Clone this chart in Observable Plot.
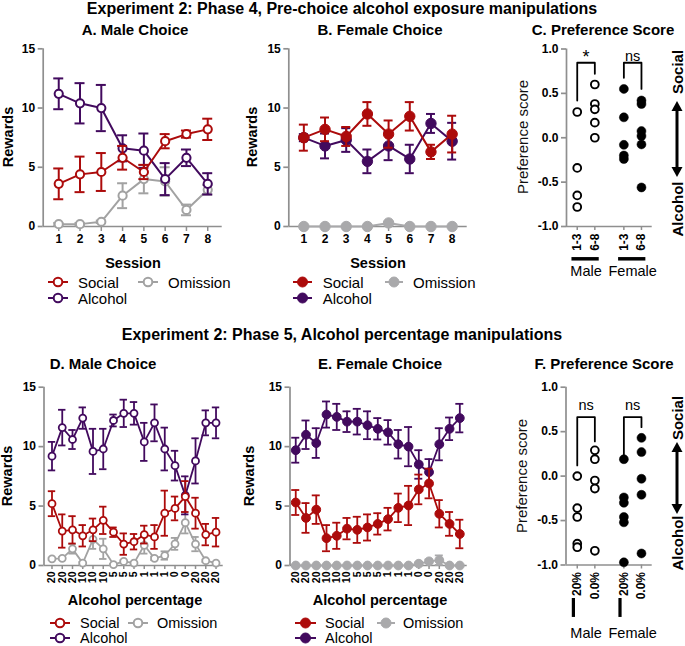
<!DOCTYPE html>
<html><head><meta charset="utf-8">
<script src="https://cdn.jsdelivr.net/npm/d3@7"></script>
<script src="https://cdn.jsdelivr.net/npm/@observablehq/plot@0.6"></script>
<style>
body{margin:0;background:#fff;}
#root{position:relative;width:685px;height:646px;overflow:hidden;font-family:"Liberation Sans",Arial,sans-serif;color:#000;background:#fff;}
.t{position:absolute;white-space:nowrap;line-height:1;transform:translate(-50%,-50%);}
.l{position:absolute;white-space:nowrap;line-height:1;transform:translate(0,-50%);font-size:15px;}
.panel{position:absolute;}
</style></head><body><div id="root"></div>
<script>
// ---------------- DATA ----------------
const seriesNames = ["Social", "Alcohol", "Omission"];
const sessionLabels = ["1","2","3","4","5","6","7","8"];

// Phase 4 – Male (A)
const maleP4Social       = [3.6, 4.4, 4.6, 5.8, 4.6, 7.2, 7.8, 8.2];
const maleP4SocialSem    = [1.3, 1.5, 1.6, 1.0, 0.6, 0.6, 0.3, 0.9];
const maleP4Alcohol      = [11.2, 10.4, 10.0, 6.6, 6.4, 4.0, 5.8, 3.6];
const maleP4AlcoholSem   = [1.3, 1.7, 1.95, 1.1, 1.45, 1.35, 0.7, 0.9];
const maleP4Omission     = [0.2, 0.2, 0.4, 2.6, 4.0, 3.8, 1.4, 3.1];
const maleP4OmissionSem  = [0.1, 0.1, 0.1, 1.05, 1.2, 1.2, 0.45, 0.4];
// Phase 4 – Female (B)
const femaleP4Social      = [7.5, 8.2, 7.6, 9.5, 7.8, 9.3, 6.3, 7.8];
const femaleP4SocialSem   = [1.1, 1.0, 0.8, 1.0, 1.15, 1.2, 0.6, 1.55];
const femaleP4Alcohol     = [7.5, 6.8, 7.3, 5.5, 6.8, 5.7, 8.7, 7.2];
const femaleP4AlcoholSem  = [0.3, 1.05, 1.0, 1.0, 1.2, 1.2, 0.8, 1.55];
const femaleP4Omission    = [0, 0, 0, 0, 0.3, 0, 0, 0];
const femaleP4OmissionSem = [0, 0, 0, 0, 0.1, 0, 0, 0];

// Phase 5 – alcohol percentage sessions
const pctLabels = ["20","20","20","10","10","10","5","5","5","1","1","1","0","0","20","20","20"];
// Male (D)
const maleP5Social       = [5.2, 2.9, 3.0, 2.5, 3.0, 3.8, 2.8, 1.8, 2.0, 2.6, 2.4, 4.4, 4.8, 5.8, 4.4, 2.6, 2.8];
const maleP5SocialSem    = [1.05, 1.4, 1.15, 0.9, 0.95, 1.15, 0.4, 0.9, 0.65, 0.75, 1.0, 1.9, 1.0, 1.3, 1.3, 0.9, 1.2];
const maleP5Alcohol      = [9.2, 11.6, 10.6, 12.4, 9.6, 9.8, 12.2, 12.8, 12.8, 10.4, 12.0, 9.8, 8.4, 5.9, 8.8, 12.0, 12.0];
const maleP5AlcoholSem   = [1.2, 1.5, 0.8, 0.9, 1.9, 1.7, 0.5, 1.15, 0.95, 1.6, 1.55, 1.8, 1.25, 1.6, 1.9, 1.05, 1.3];
const maleP5Omission     = [0.56, 0.6, 1.4, 0.2, 2.2, 1.4, 0.08, 0.34, 0.2, 1.7, 0.6, 0.84, 1.82, 3.6, 1.8, 0.4, 0.2];
const maleP5OmissionSem  = [0.1, 0.1, 0.4, 0.1, 0.8, 0.85, 0.05, 0.1, 0.1, 0.7, 0.15, 0.35, 0.5, 0.9, 0.6, 0.1, 0.1];
// Female (E)
const femaleP5Social      = [5.3, 4.0, 4.7, 2.3, 2.5, 3.1, 3.0, 3.2, 3.5, 3.9, 4.85, 5.05, 6.4, 6.9, 4.35, 3.5, 2.65];
const femaleP5SocialSem   = [1.05, 1.25, 1.2, 1.1, 1.1, 0.9, 1.1, 1.1, 0.9, 0.95, 1.2, 1.65, 1.25, 1.25, 1.15, 1.0, 1.2];
const femaleP5Alcohol     = [9.7, 11.0, 10.3, 12.7, 12.5, 12.1, 12.1, 11.8, 11.5, 11.2, 10.2, 10.0, 8.5, 7.85, 10.2, 11.5, 12.4];
const femaleP5AlcoholSem  = [1.05, 1.2, 1.25, 1.1, 1.1, 0.87, 1.08, 1.17, 0.9, 1.03, 1.2, 1.65, 1.2, 1.1, 1.35, 0.95, 1.2];
const femaleP5Omission    = [0, 0, 0, 0, 0, 0, 0, 0, 0, 0, 0, 0, 0.15, 0.35, 0.45, 0, 0];
const femaleP5OmissionSem = [0, 0, 0, 0, 0, 0, 0, 0, 0, 0, 0, 0, 0.1, 0.15, 0.4, 0, 0];

// Preference scores
const prefGroups = ["Male", "Female"];
const p4Periods = ["1-3", "6-8"];
const p4Male13   = [0.29, -0.34, -0.65, -0.78];
const p4Male68   = [0.6, 0.38, 0.32, 0.17, 0.0];
const p4Female13 = [0.55, 0.23, -0.08, -0.2, -0.24];
const p4Female68 = [0.42, 0.38, 0.075, 0.02, -0.075, -0.56];
const p4Sig = ["*", "ns"];
const p5Periods = ["20%", "0.0%"];
const p5Male20   = [0.0, -0.36, -0.46, -0.76, -0.8];
const p5Male0    = [0.29, 0.19, -0.05, -0.14, -0.84];
const p5Female20 = [0.19, -0.24, -0.3, -0.46, -0.52, -0.97];
const p5Female0  = [0.43, 0.27, -0.03, -0.21, -0.87];
const p5Sig = ["ns", "ns"];

// ---------------- STYLE ----------------
const RED = "#AC0B0B", PURPLE = "#420A5E", GRAY = "#A2A2A2", GRAYF = "#A9A9AB", AX = "#8F8F8F";
const FONT = "'Liberation Sans', Arial, sans-serif";
const root = document.getElementById("root");

function text(str, x, y, {size = 15, weight = "bold", rotate = 0, color = "#000"} = {}) {
  const d = document.createElement("div");
  d.className = "t";
  d.textContent = str;
  d.style.left = x + "px"; d.style.top = y + "px";
  d.style.fontSize = size + "px"; d.style.fontWeight = weight; d.style.color = color;
  if (rotate) d.style.transform = `translate(-50%,-50%) rotate(${rotate}deg)`;
  root.appendChild(d);
}

function place(svg, left, top, W, H) {
  const d = document.createElement("div");
  d.className = "panel";
  d.style.left = left + "px"; d.style.top = top + "px";
  d.style.width = W + "px"; d.style.height = H + "px";
  d.appendChild(svg);
  root.appendChild(d);
}

const plotStyle = {fontFamily: FONT, fontSize: "12px", fontWeight: "bold", color: "#000", background: "transparent", overflow: "visible"};

function linePanel({left, top, W, H, x0, x1, y0, y1, xDomain, labels, series, filled, r, sw, cap, lw, tickRotate = 0, xFont = 12, xTickSize = 5}) {
  const ticks = labels.map((_, i) => i + 1);
  const marks = [
    Plot.ruleY([0], {stroke: AX, strokeWidth: 1.7}),
    Plot.ruleX([xDomain[0]], {y1: 0, y2: 15, stroke: AX, strokeWidth: 1.7}),
    Plot.axisY({ticks: [0, 5, 10, 15], tickSize: 5, tickPadding: 3, stroke: AX, strokeWidth: 1.7, fill: "#000", label: null, fontSize: 12, fontWeight: "bold"}),
    Plot.axisX({ticks, tickFormat: d => labels[d - 1], tickSize: xTickSize, tickPadding: tickRotate ? 2 : 3, tickRotate, stroke: AX, strokeWidth: 1.5, fill: "#000", label: null, fontSize: xFont, fontWeight: "bold"})
  ];
  for (const s of series) {
    const rows = s.values.map((v, i) => ({x: i + 1, v, lo: v - s.sem[i], hi: v + s.sem[i]}));
    const c = s.color;
    marks.push(
      Plot.ruleX(rows, {x: "x", y1: "lo", y2: "hi", stroke: c, strokeWidth: lw}),
      Plot.ruleY(rows, {y: "hi", x1: "x", x2: "x", insetLeft: -cap, insetRight: -cap, stroke: c, strokeWidth: lw}),
      Plot.ruleY(rows, {y: "lo", x1: "x", x2: "x", insetLeft: -cap, insetRight: -cap, stroke: c, strokeWidth: lw}),
      Plot.line(rows, {x: "x", y: "v", stroke: c, strokeWidth: lw}),
      Plot.dot(rows, {x: "x", y: "v", r, fill: filled ? c : "white", stroke: c, strokeWidth: filled ? 1 : sw})
    );
  }
  const svg = Plot.plot({
    width: W, height: H,
    marginLeft: x0 - left, marginRight: left + W - x1, marginTop: y0 - top, marginBottom: top + H - y1,
    x: {domain: xDomain}, y: {domain: [0, 15]},
    style: plotStyle, marks
  });
  place(svg, left, top, W, H);
}

function prefPanel({left, top, W, H, x0, x1, y0, y1, xDomain, periods, values, sig, sigY, brackets, groupMark, labelY}) {
  const slot = (g, k) => 1 + g * 2.65 + k;
  const pts = [];
  values.forEach((grp, g) => grp.forEach((arr, k) => arr.forEach(v => pts.push({x: slot(g, k), v, g}))));
  const ticks = [slot(0, 0), slot(0, 1), slot(1, 0), slot(1, 1)];
  const tickLabels = [periods[0], periods[1], periods[0], periods[1]];
  const br = [];
  brackets.forEach((b, g) => {
    const a = slot(g, 0), c = slot(g, 1);
    br.push({g, x: a, y: b.left}, {g, x: a, y: b.top}, {g, x: c, y: b.top}, {g, x: c, y: b.right});
  });
  const groupsRows = prefGroups.map((name, g) => ({name, a: slot(g, 0), b: slot(g, 1), sig: sig[g]}));
  const marks = [
    Plot.ruleY([-1], {stroke: AX, strokeWidth: 1.7}),
    Plot.ruleX([xDomain[0]], {y1: -1, y2: 1, stroke: AX, strokeWidth: 1.7}),
    Plot.axisY({ticks: [-1, -0.5, 0, 0.5, 1], tickFormat: d => d.toFixed(1), tickSize: 5, tickPadding: 3, stroke: AX, strokeWidth: 1.7, fill: "#000", label: null, fontSize: 12, fontWeight: "bold"}),
    Plot.axisX({ticks, tickFormat: d => tickLabels[ticks.indexOf(d)], tickSize: 4, tickPadding: 3, tickRotate: -90, stroke: AX, strokeWidth: 1.5, fill: "#000", label: null, fontSize: 12, fontWeight: "bold"}),
    Plot.dot(pts.filter(d => d.g === 0), {x: "x", y: "v", r: 3.9, fill: "white", stroke: "#000", strokeWidth: 1.9}),
    Plot.dot(pts.filter(d => d.g === 1), {x: "x", y: "v", r: 4.5, fill: "#000", stroke: "#000", strokeWidth: 0.5}),
    Plot.line(br, {x: "x", y: "y", z: "g", stroke: "#000", strokeWidth: 1.8}),
    Plot.text(groupsRows.filter(d => d.sig !== "*"), {x: d => (d.a + d.b) / 2, y: sigY, text: "sig", fontSize: 14.5, fontWeight: "normal", fill: "#000"}),
    Plot.text(groupsRows.filter(d => d.sig === "*"), {x: d => (d.a + d.b) / 2, y: sigY, text: "sig", fontSize: 18, fontWeight: "normal", fill: "#000", dy: 1}),
    Plot.text(groupsRows, {x: d => (d.a + d.b) / 2, y: labelY, text: "name", fontSize: 14.5, fontWeight: "normal", fill: "#000"})
  ];
  if (groupMark.type === "h") {
    marks.push(Plot.ruleY(groupsRows, {y: groupMark.y, x1: d => d.a - 0.3, x2: d => d.b + 0.25, stroke: "#000", strokeWidth: 3.5}));
  } else {
    marks.push(Plot.ruleX(groupsRows, {x: d => d.a - 0.22, y1: groupMark.y1, y2: groupMark.y2, stroke: "#000", strokeWidth: 3.2}));
  }
  const svg = Plot.plot({
    width: W, height: H,
    marginLeft: x0 - left, marginRight: left + W - x1, marginTop: y0 - top, marginBottom: top + H - y1,
    x: {domain: xDomain}, y: {domain: [-1, 1]},
    style: plotStyle, marks
  });
  place(svg, left, top, W, H);
}

function legend(items, size = 15) {
  for (const it of items) {
    const d = document.createElement("div");
    d.style.position = "absolute";
    d.style.left = it.mx + "px"; d.style.top = (it.y - 7) + "px";
    const w = it.mw;
    d.innerHTML = `<svg width="${w}" height="14" style="display:block;overflow:visible"><line x1="0" y1="7" x2="${w}" y2="7" stroke="${it.color}" stroke-width="2"/><circle cx="${w/2}" cy="7" r="${it.r}" fill="${it.filled ? it.color : "white"}" stroke="${it.color}" stroke-width="${it.filled ? 1 : 2}"/></svg>`;
    root.appendChild(d);
    const t = document.createElement("div");
    t.className = "l";
    t.textContent = it.name;
    t.style.fontSize = size + "px";
    t.style.left = it.tx + "px"; t.style.top = it.y + "px";
    root.appendChild(t);
  }
}

// ---------------- TITLES ----------------
text("Experiment 2: Phase 4, Pre-choice alcohol exposure manipulations", 342, 9, {size: 16});
text("Experiment 2: Phase 5, Alcohol percentage manipulations", 342, 335, {size: 16});
text("A. Male Choice", 135, 29, {size: 15});
text("B. Female Choice", 380, 29, {size: 15});
text("C. Preference Score", 603, 29, {size: 15});
text("D. Male Choice", 103, 363, {size: 15});
text("E. Female Choice", 380, 363, {size: 15});
text("F. Preference Score", 604, 363, {size: 15});

// ---------------- PANEL A ----------------
linePanel({left: 0, top: 40, W: 232, H: 215, x0: 42.7, x1: 221.7, y0: 48.3, y1: 226,
  xDomain: [0.27, 8.68], labels: sessionLabels, filled: false, r: 4.1, sw: 2, cap: 5, lw: 2,
  series: [
    {values: maleP4Omission, sem: maleP4OmissionSem, color: GRAY},
    {values: maleP4Alcohol, sem: maleP4AlcoholSem, color: PURPLE},
    {values: maleP4Social, sem: maleP4SocialSem, color: RED}
  ]});
text("Rewards", 7.5, 137.2, {size: 14.5, rotate: -90});
text("Session", 133, 263, {size: 14.5});
legend([
  {name: seriesNames[0], color: RED, filled: false, r: 4.3, mx: 48, mw: 20, tx: 78, y: 282},
  {name: seriesNames[2], color: GRAY, filled: false, r: 4.3, mx: 138, mw: 20, tx: 168, y: 282},
  {name: seriesNames[1], color: PURPLE, filled: false, r: 4.3, mx: 48, mw: 20, tx: 78, y: 298}
]);

// ---------------- PANEL B ----------------
linePanel({left: 240, top: 40, W: 235, H: 215, x0: 288.3, x1: 466.7, y0: 48.3, y1: 226,
  xDomain: [0.29, 8.71], labels: sessionLabels, filled: true, r: 5.2, sw: 1, cap: 4.5, lw: 2,
  series: [
    {values: femaleP4Omission, sem: femaleP4OmissionSem, color: GRAYF},
    {values: femaleP4Alcohol, sem: femaleP4AlcoholSem, color: PURPLE},
    {values: femaleP4Social, sem: femaleP4SocialSem, color: RED}
  ]});
text("Rewards", 251.7, 137.2, {size: 14.5, rotate: -90});
text("Session", 378, 263, {size: 14.5});
legend([
  {name: seriesNames[0], color: RED, filled: true, r: 5, mx: 293, mw: 19, tx: 322.7, y: 282},
  {name: seriesNames[2], color: GRAYF, filled: true, r: 5, mx: 385, mw: 18, tx: 413, y: 282},
  {name: seriesNames[1], color: PURPLE, filled: true, r: 5, mx: 293, mw: 19, tx: 322.7, y: 298}
]);

// ---------------- PANEL C ----------------
prefPanel({left: 515, top: 40, W: 145, H: 245, x0: 566, x1: 651.7, y0: 48.5, y1: 226,
  xDomain: [0.39, 5.26], periods: p4Periods,
  values: [[p4Male13, p4Male68], [p4Female13, p4Female68]],
  sig: p4Sig, sigY: 0.917,
  brackets: [{left: 0.42, top: 0.845, right: 0.72}, {left: 0.675, top: 0.845, right: 0.55}],
  groupMark: {type: "h", y: -1.364}, labelY: -1.5});
text("Preference score", 521.7, 137.25, {size: 15, weight: "normal", rotate: -90, color: "#111"});
text("Social", 677.3, 71.5, {size: 15, rotate: -90});
text("Alcohol", 677.3, 209, {size: 15, rotate: -90});

// ---------------- PANEL D ----------------
linePanel({left: 0, top: 375, W: 232, H: 215, x0: 43.5, x1: 222.7, y0: 386.7, y1: 565,
  xDomain: [0.22, 17.7], labels: pctLabels, filled: false, r: 3.5, sw: 1.8, cap: 3.7, lw: 1.8,
  tickRotate: -90, xFont: 10.5, xTickSize: 4,
  series: [
    {values: maleP5Omission, sem: maleP5OmissionSem, color: GRAY},
    {values: maleP5Alcohol, sem: maleP5AlcoholSem, color: PURPLE},
    {values: maleP5Social, sem: maleP5SocialSem, color: RED}
  ]});
text("Rewards", 7, 475.8, {size: 14.5, rotate: -90});
text("Alcohol percentage", 135, 600, {size: 14.5});
legend([
  {name: seriesNames[0], color: RED, filled: false, r: 4.3, mx: 50, mw: 20, tx: 80, y: 622.5},
  {name: seriesNames[2], color: GRAY, filled: false, r: 4.3, mx: 128, mw: 20, tx: 157, y: 622.5},
  {name: seriesNames[1], color: PURPLE, filled: false, r: 4.3, mx: 50, mw: 20, tx: 80, y: 638}
], 14.5);

// ---------------- PANEL E ----------------
linePanel({left: 240, top: 375, W: 235, H: 215, x0: 289.5, x1: 466.7, y0: 386.7, y1: 565,
  xDomain: [0.44, 17.72], labels: pctLabels, filled: true, r: 4.4, sw: 1, cap: 4, lw: 1.8,
  tickRotate: -90, xFont: 10.5, xTickSize: 4,
  series: [
    {values: femaleP5Omission, sem: femaleP5OmissionSem, color: GRAYF},
    {values: femaleP5Alcohol, sem: femaleP5AlcoholSem, color: PURPLE},
    {values: femaleP5Social, sem: femaleP5SocialSem, color: RED}
  ]});
text("Rewards", 249.3, 475.8, {size: 14.5, rotate: -90});
text("Alcohol percentage", 380, 600, {size: 14.5});
legend([
  {name: seriesNames[0], color: RED, filled: true, r: 5, mx: 295, mw: 21, tx: 325, y: 622.5},
  {name: seriesNames[2], color: GRAYF, filled: true, r: 5, mx: 377, mw: 18, tx: 403, y: 622.5},
  {name: seriesNames[1], color: PURPLE, filled: true, r: 5, mx: 295, mw: 21, tx: 325, y: 638}
], 14.5);

// ---------------- PANEL F ----------------
prefPanel({left: 515, top: 375, W: 145, H: 270, x0: 565.5, x1: 651.7, y0: 386.7, y1: 564.5,
  xDomain: [0.36, 5.26], periods: p5Periods,
  values: [[p5Male20, p5Male0], [p5Female20, p5Female0]],
  sig: p5Sig, sigY: 0.8,
  brackets: [{left: 0.12, top: 0.663, right: 0.39}, {left: 0.23, top: 0.663, right: 0.55}],
  groupMark: {type: "v", y1: -1.377, y2: -1.59}, labelY: -1.77});
text("Preference score", 520.7, 475.6, {size: 15, weight: "normal", rotate: -90, color: "#111"});
text("Social", 677.3, 417.5, {size: 15, rotate: -90});
text("Alcohol", 677.3, 542.5, {size: 15, rotate: -90});

// double-headed arrows (decoration)
function arrow(x, yTop, yBot) {
  const d = document.createElement("div");
  d.style.position = "absolute"; d.style.left = (x - 6) + "px"; d.style.top = yTop + "px";
  const h = yBot - yTop;
  d.innerHTML = `<svg width="12" height="${h}" style="display:block"><line x1="6" y1="8" x2="6" y2="${h - 8}" stroke="#000" stroke-width="3"/><polygon points="6,0 11.5,10 0.5,10" fill="#000"/><polygon points="6,${h} 11.5,${h - 10} 0.5,${h - 10}" fill="#000"/></svg>`;
  root.appendChild(d);
}
arrow(677.3, 101, 177);
arrow(677.3, 442, 514);
</script></body></html>
